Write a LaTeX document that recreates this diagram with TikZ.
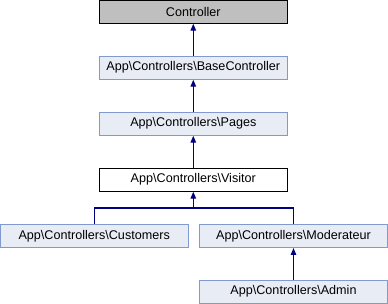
\documentclass[tikz,border=0pt]{standalone}
\usepackage{fontspec}
\setmainfont{Liberation Sans}
\usetikzlibrary{arrows.meta}
\definecolor{cFill}{HTML}{E8ECF5}
\definecolor{cEdge}{HTML}{8199CF}
\definecolor{cTop}{HTML}{BFBFBF}
\definecolor{cLink}{HTML}{000080}
\tikzset{
  every node/.style={font=\fontsize{12.6}{14}\selectfont},
  cls/.style={draw=cEdge, fill=cFill, line width=1pt, minimum width=188pt, minimum height=23pt, inner sep=0pt},
  cur/.style={cls, draw=black, fill=white},
  root/.style={cls, draw=black, fill=cTop},
  edge/.style={draw=cLink, line width=1.2pt},
  inh/.style={edge, -{Triangle[length=7pt,width=5.5pt]}},
}

\begin{document}
\begin{tikzpicture}[x=1pt,y=-1pt]
\useasboundingbox (0,0) rectangle (388,304);
% class boxes
\node[root] (ctrl) at (193.3,11.7) {Controller};
\node[cls] (base) at (193.3,67.7) {App\textbackslash Controllers\textbackslash BaseController};
\node[cls] (pages) at (193.3,123.7) {App\textbackslash Controllers\textbackslash Pages};
\node[cur] (vis) at (193.3,179.7) {App\textbackslash Controllers\textbackslash Visitor};
\node[cls] (cust) at (94.2,236) {App\textbackslash Controllers\textbackslash Customers};
\node[cls] (mod) at (293.5,236) {App\textbackslash Controllers\textbackslash Moderateur};
\node[cls] (adm) at (293.5,291.7) {App\textbackslash Controllers\textbackslash Admin};
% inheritance links
\draw[inh] (base.north) -- (ctrl.south);
\draw[inh] (pages.north) -- (base.south);
\draw[inh] (vis.north) -- (pages.south);
\coordinate (split) at (193.3,208);
\draw[edge] (cust.north) |- (split) -| (mod.north);
\draw[inh] (split) -- (vis.south);
\draw[inh] (adm.north) -- (mod.south);
\end{tikzpicture}
\end{document}
